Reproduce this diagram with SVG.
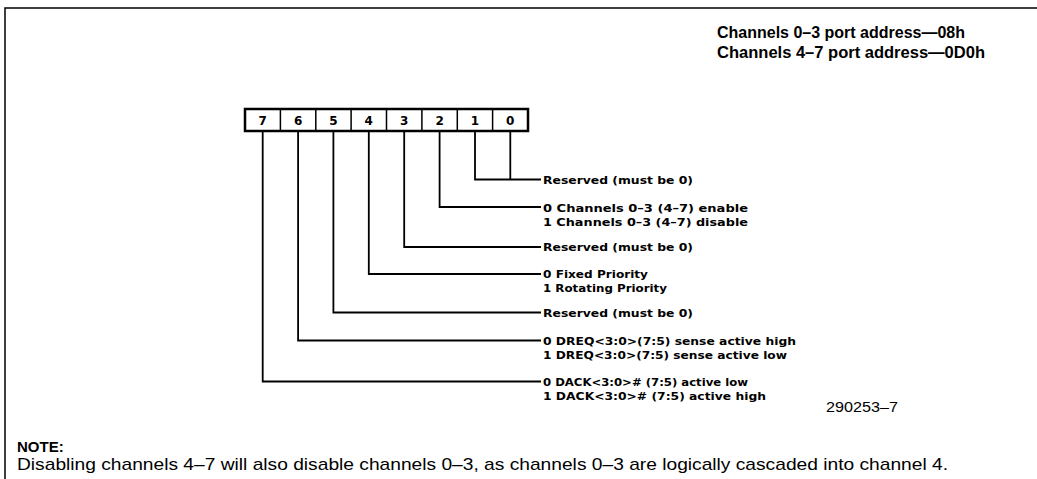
<svg xmlns="http://www.w3.org/2000/svg" width="1037" height="479" viewBox="0 0 1037 479">
<style>
.frame{fill:none;stroke:#000;stroke-width:1.5}
.box{fill:#fff;stroke:#000;stroke-width:2.5}
.cell{fill:none;stroke:#000;stroke-width:1.5}
.conn{fill:none;stroke:#000;stroke-width:1.8;stroke-linejoin:miter}
.bit{font-family:"DejaVu Sans","Liberation Sans",sans-serif;font-weight:bold;font-size:12px;text-anchor:middle}
.lbl{font-family:"DejaVu Sans","Liberation Sans",sans-serif;font-weight:bold;font-size:11px}
.title{font-family:"Liberation Sans",Arial,sans-serif;font-weight:bold;font-size:16px}
.note{font-family:"Liberation Sans",Arial,sans-serif;font-size:17px}
.noteh{font-family:"Liberation Sans",Arial,sans-serif;font-weight:bold;font-size:15px}
.fig{font-family:"Liberation Sans",Arial,sans-serif;font-size:14px}
</style>
<rect width="1037" height="479" fill="#fff"/>
<path class="frame" d="M5,479 V8 H1037"/>
<g id="title">
<text class="title" x="717" y="38" textLength="248" lengthAdjust="spacingAndGlyphs">Channels 0–3 port address—08h</text>
<text class="title" x="717" y="58" textLength="268" lengthAdjust="spacingAndGlyphs">Channels 4–7 port address—0D0h</text>
</g>
<g id="register">
<rect class="box" x="245" y="109" width="283" height="22"/>
<path class="cell" d="M280.4,109V131M315.8,109V131M351.1,109V131M386.5,109V131M421.9,109V131M457.3,109V131M492.6,109V131"/>
<text class="bit" x="262.7" y="124.5">7</text>
<text class="bit" x="298.1" y="124.5">6</text>
<text class="bit" x="333.4" y="124.5">5</text>
<text class="bit" x="368.8" y="124.5">4</text>
<text class="bit" x="404.2" y="124.5">3</text>
<text class="bit" x="439.6" y="124.5">2</text>
<text class="bit" x="475" y="124.5">1</text>
<text class="bit" x="510.3" y="124.5">0</text>
</g>
<g id="connectors">
<path class="conn" d="M510.3,131V179.5"/>
<path class="conn" d="M475,131V179.5H541"/>
<path class="conn" d="M439.6,131V207H541"/>
<path class="conn" d="M404.2,131V247H541"/>
<path class="conn" d="M368.8,131V274H541"/>
<path class="conn" d="M333.4,131V312.5H541"/>
<path class="conn" d="M298.1,131V340.5H541"/>
<path class="conn" d="M262.7,131V381.5H541"/>
</g>
<g id="labels">
<text class="lbl" x="543" y="183.5" textLength="150" lengthAdjust="spacingAndGlyphs">Reserved (must be 0)</text>
<text class="lbl" x="543" y="211.5" textLength="205" lengthAdjust="spacingAndGlyphs">0 Channels 0–3 (4–7) enable</text>
<text class="lbl" x="543" y="225.5" textLength="205" lengthAdjust="spacingAndGlyphs">1 Channels 0–3 (4–7) disable</text>
<text class="lbl" x="543" y="251" textLength="150" lengthAdjust="spacingAndGlyphs">Reserved (must be 0)</text>
<text class="lbl" x="543" y="278" textLength="105" lengthAdjust="spacingAndGlyphs">0 Fixed Priority</text>
<text class="lbl" x="543" y="292" textLength="124" lengthAdjust="spacingAndGlyphs">1 Rotating Priority</text>
<text class="lbl" x="543" y="316.5" textLength="150" lengthAdjust="spacingAndGlyphs">Reserved (must be 0)</text>
<text class="lbl" x="543" y="344.5" textLength="253" lengthAdjust="spacingAndGlyphs">0 DREQ&lt;3:0&gt;(7:5) sense active high</text>
<text class="lbl" x="543" y="359" textLength="244" lengthAdjust="spacingAndGlyphs">1 DREQ&lt;3:0&gt;(7:5) sense active low</text>
<text class="lbl" x="543" y="385.5" textLength="205" lengthAdjust="spacingAndGlyphs">0 DACK&lt;3:0&gt;# (7:5) active low</text>
<text class="lbl" x="543" y="399.5" textLength="223" lengthAdjust="spacingAndGlyphs">1 DACK&lt;3:0&gt;# (7:5) active high</text>
</g>
<g id="figure-number">
<text class="fig" x="826" y="412" textLength="72" lengthAdjust="spacingAndGlyphs">290253–7</text>
</g>
<g id="note">
<text class="noteh" x="17" y="452">NOTE:</text>
<text class="note" x="17" y="470" textLength="931" lengthAdjust="spacingAndGlyphs">Disabling channels 4–7 will also disable channels 0–3, as channels 0–3 are logically cascaded into channel 4.</text>
</g>
</svg>
